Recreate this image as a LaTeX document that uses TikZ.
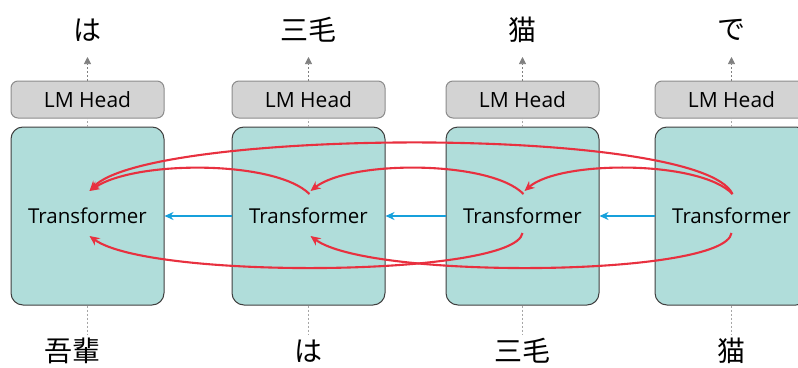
\documentclass[tikz,border=0pt]{standalone}
\usepackage{fontspec}
\setmainfont{Open Sans}
\newfontfamily\cjk{Noto Sans CJK JP}
\usetikzlibrary{arrows.meta}
\definecolor{tealfill}{HTML}{B0DDDA}
\definecolor{boxedge}{HTML}{3F3F3F}
\definecolor{headfill}{HTML}{D3D3D3}
\definecolor{headedge}{HTML}{8C8C8C}
\definecolor{attn}{HTML}{E8303F}
\definecolor{flow}{HTML}{16A0DB}
\tikzset{
  tbox/.style={draw=boxedge, line width=1pt, fill=tealfill, rounded corners=12pt,
    minimum width=153pt, minimum height=178pt, inner sep=0pt,
    font=\fontsize{20.5}{20.5}\selectfont},
  hbox/.style={draw=headedge, line width=1pt, fill=headfill, rounded corners=7pt,
    minimum width=153pt, minimum height=37pt, inner sep=0pt,
    font=\fontsize{21}{21}\selectfont},
  tok/.style={font=\cjk\fontsize{28}{28}\selectfont, inner sep=0pt},
  guide/.style={draw=gray!70, dashed, dash pattern=on 2pt off 2pt, line width=0.7pt},
  guidearrow/.style={guide, -{Triangle[length=7pt,width=7pt]}, color=gray},
  attnarrow/.style={draw=attn, line width=2.1pt, -{Stealth[length=10pt,width=9pt]}},
  flowarrow/.style={draw=flow, line width=2pt, -{Stealth[length=9pt,width=8pt]}}
}
\begin{document}
\begin{tikzpicture}[x=1pt,y=-1pt]
\useasboundingbox (0,0) rectangle (798,367);
\begin{scope}
\clip (0,0) rectangle (798,367);
% transformer blocks, LM heads and tokens
\foreach \i/\x/\outw/\inx/\inw in {1/87.5/は/72/吾輩, 2/308.5/三毛/308.5/は, 3/522.5/猫/522.5/三毛, 4/731.5/で/731.5/猫}{
  \node[tbox] (t\i) at (\x,216) {Transformer};
  \node[hbox] (h\i) at (\x,99.5) {LM Head};
  \node[tok] (o\i) at (\x,30) {\outw};
  \node[tok] (in\i) at (\inx,351) {\inw};
  \coordinate (ot\i) at (\x,57);
  \coordinate (ib\i) at (\x,334);
  \draw[guide] (t\i.north) -- (h\i.south);
  \draw[guidearrow] (h\i.north) -- (ot\i);
  \draw[guide] (t\i.south) -- (ib\i);
  \coordinate (up\i) at (\x+1,194);
  \coordinate (upin\i) at (\x+2,191);
  \coordinate (dn\i) at (\x,233);
  \coordinate (dnin\i) at (\x+2,236);
}
% recurrent flow between blocks
\draw[flowarrow] (t2.west) -- (t1.east);
\draw[flowarrow] (t3.west) -- (t2.east);
\draw[flowarrow] (t4.west) -- (t3.east);
% attention arcs above
\draw[attnarrow] (up4) .. controls (700,125) and (150,128) .. (upin1);
\draw[attnarrow] (up4) .. controls (700,160) and (560,160) .. (upin3);
\draw[attnarrow] (up3) .. controls (490,160) and (350,160) .. (upin2);
\draw[attnarrow] (up2) .. controls (275,160) and (135,160) .. (upin1);
% attention arcs below
\draw[attnarrow] (dn3) .. controls (515,277) and (150,280) .. (dnin1);
\draw[attnarrow] (dn4) .. controls (725,277) and (370,280) .. (dnin2);
\end{scope}
\end{tikzpicture}
\end{document}
